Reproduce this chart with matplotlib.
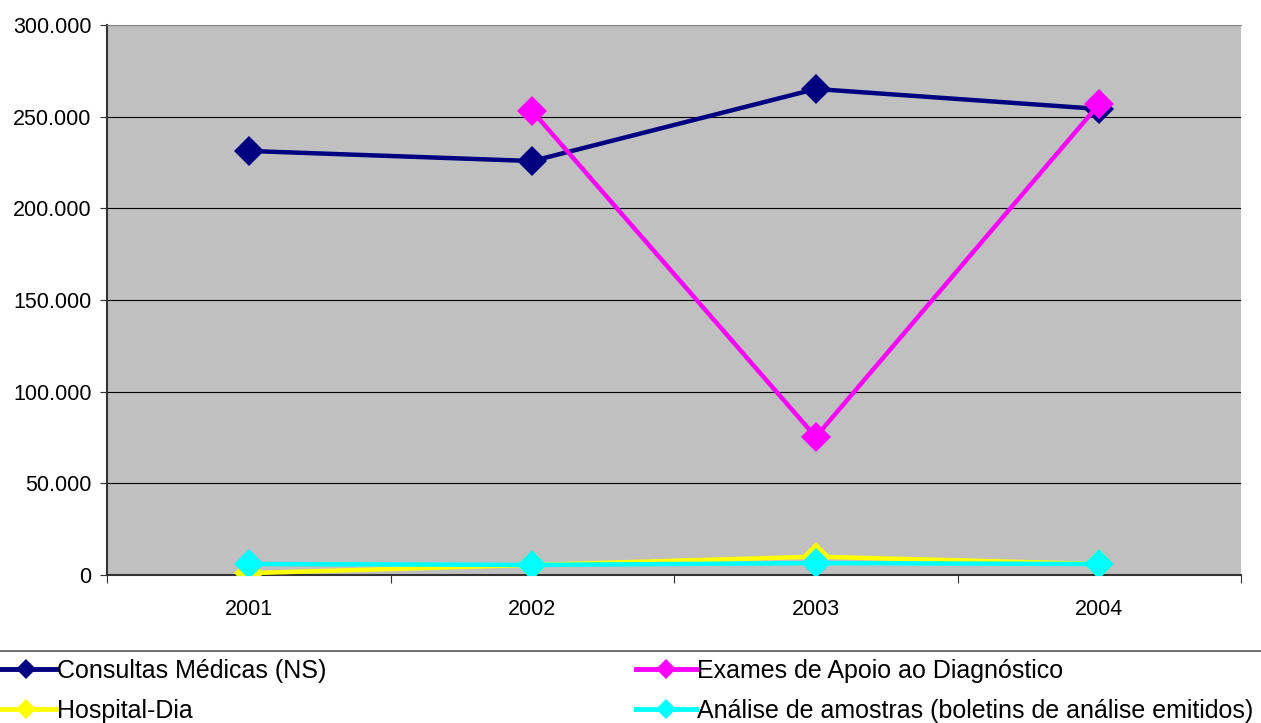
import numpy as np
import matplotlib
matplotlib.use("Agg")
import matplotlib.pyplot as plt
from matplotlib.ticker import FuncFormatter, MultipleLocator
from matplotlib.lines import Line2D

plt.rcParams['font.family'] = ['Liberation Sans', 'DejaVu Sans']

anos = ['2001', '2002', '2003', '2004']
consultas = [231300, 225800, 265100, 254200]
exames = [np.nan, 253100, 75300, 256900]
hospital_dia = [1000, 5500, 10000, 6000]
analises = [6000, 5500, 6500, 6000]

series = [
    ('Consultas Médicas (NS)', consultas, '#000080'),
    ('Exames de Apoio ao Diagnóstico', exames, '#FF00FF'),
    ('Hospital-Dia', hospital_dia, '#FFFF00'),
    ('Análise de amostras (boletins de análise emitidos)', analises, '#00FFFF'),
]

fig = plt.figure(figsize=(12.61, 7.23), dpi=100)
ax = fig.add_axes([107 / 1261, 1 - 575 / 723, 1134 / 1261, 550 / 723])
ax.set_facecolor('#C0C0C0')

x = np.arange(len(anos)) + 0.5
handles = {}
for nome, vals, cor in series:
    h, = ax.plot(x, vals, color=cor, lw=3.2, marker='D', markersize=15,
                 markeredgewidth=0, label=nome, zorder=3)
    handles[nome] = h

ax.set_xlim(0, len(anos))
ax.set_ylim(0, 300000)
ax.yaxis.set_major_locator(MultipleLocator(50000))
ax.yaxis.set_major_formatter(FuncFormatter(
    lambda v, p: '0' if v == 0 else f'{int(v):,}'.replace(',', '.')))
ax.grid(axis='y', color='black', lw=0.8, zorder=1)
ax.set_axisbelow(True)

# year labels sit between the category boundary ticks
ax.set_xticks(np.arange(len(anos) + 1))
ax.set_xticklabels([])
ax.set_xticks(x, minor=True)
ax.set_xticklabels(anos, minor=True)
ax.tick_params(axis='x', which='major', length=6, direction='out', color='#333333')
ax.tick_params(axis='x', which='minor', length=0, pad=17, labelsize=15.5)
ax.tick_params(axis='y', length=5, direction='out', color='#333333', labelsize=15.5, pad=6)

for s in ['left', 'bottom']:
    ax.spines[s].set_color('#333333')
    ax.spines[s].set_linewidth(1.5)
ax.spines['top'].set_color('#888888')
ax.spines['right'].set_visible(False)

# separator above the legend
fig.add_artist(Line2D([0, 1], [1 - 651 / 723] * 2, color='#555555', lw=1.2,
                      transform=fig.transFigure))

ordem = ['Consultas Médicas (NS)', 'Hospital-Dia',
         'Exames de Apoio ao Diagnóstico',
         'Análise de amostras (boletins de análise emitidos)']
leg_handles = [Line2D([], [], color=handles[n].get_color(), lw=3.5, marker='D',
                      markersize=10, markeredgewidth=0) for n in ordem]
fig.legend(leg_handles, ordem, loc='upper left', bbox_to_anchor=(-0.003, 0.089),
           ncol=2, frameon=False, fontsize=18, handlelength=2.4,
           handletextpad=0.05, columnspacing=12.35, labelspacing=0.66,
           borderaxespad=0, borderpad=0)

fig.savefig('out.png', dpi=100)
